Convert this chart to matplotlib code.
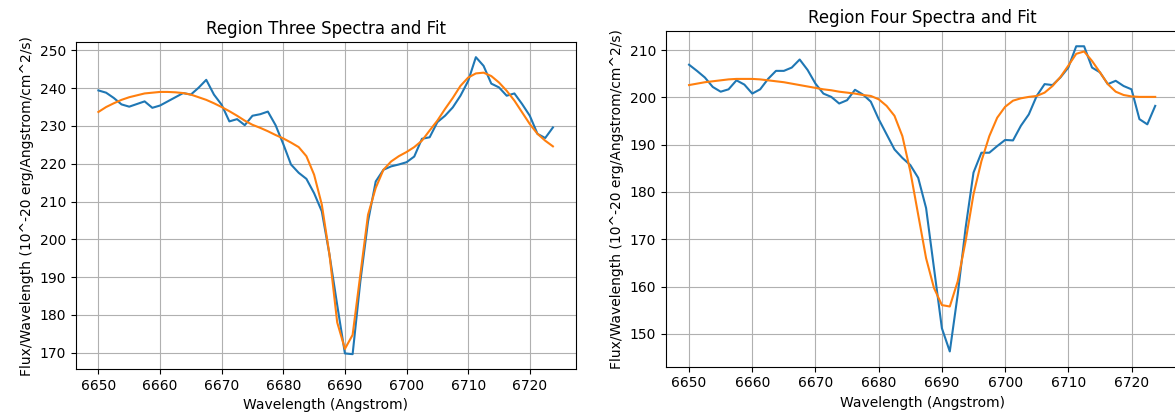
import matplotlib
matplotlib.use('Agg')
import matplotlib.pyplot as plt

# wavelength grid (Angstrom)
wave = [6650.0, 6651.25, 6652.5, 6653.75, 6655.0, 6656.25, 6657.5, 6658.75, 6660.0, 6661.25,
        6662.5, 6663.75, 6665.0, 6666.25, 6667.5, 6668.75, 6670.0, 6671.25, 6672.5, 6673.75,
        6675.0, 6676.25, 6677.5, 6678.75, 6680.0, 6681.25, 6682.5, 6683.75, 6685.0, 6686.25,
        6687.5, 6688.75, 6690.0, 6691.25, 6692.5, 6693.75, 6695.0, 6696.25, 6697.5, 6698.75,
        6700.0, 6701.25, 6702.5, 6703.75, 6705.0, 6706.25, 6707.5, 6708.75, 6710.0, 6711.25,
        6712.5, 6713.75, 6715.0, 6716.25, 6717.5, 6718.75, 6720.0, 6721.25, 6722.5, 6723.75]

# region three
flux3 = [239.4, 238.8, 237.4, 235.7, 235.1, 235.8, 236.5, 234.8, 235.4, 236.5,
         237.6, 238.7, 238.3, 240.1, 242.2, 238.3, 235.6, 231.2, 231.8, 230.2,
         232.7, 233.1, 233.8, 230.2, 225.2, 219.8, 217.6, 216.0, 212.2, 207.4,
         195.9, 182.6, 169.8, 169.6, 188.8, 204.7, 215.3, 218.4, 219.3, 219.8,
         220.4, 221.9, 226.6, 227.0, 231.0, 232.7, 234.9, 238.0, 241.9, 248.2,
         245.9, 241.2, 240.2, 238.0, 238.6, 235.8, 232.7, 227.9, 226.8, 229.6]
fit3 = [233.7, 235.0, 236.0, 236.9, 237.6, 238.1, 238.6, 238.8, 239.0, 239.0,
        238.9, 238.7, 238.3, 237.6, 236.9, 236.0, 235.0, 233.9, 232.7, 231.4,
        230.3, 229.5, 228.6, 227.6, 226.7, 225.6, 224.4, 222.0, 217.1, 209.2,
        195.9, 178.0, 171.0, 174.7, 190.6, 206.5, 213.6, 218.4, 220.6, 222.0,
        223.1, 224.4, 226.1, 228.8, 231.4, 234.5, 237.4, 240.6, 242.8, 243.9,
        244.1, 243.2, 241.5, 239.3, 236.7, 233.6, 230.5, 227.9, 226.1, 224.6]

# region four
flux4 = [206.9, 205.6, 204.2, 202.2, 201.2, 201.7, 203.6, 202.7, 200.8, 201.7,
         203.9, 205.6, 205.6, 206.3, 208.0, 205.8, 202.9, 200.8, 200.1, 198.7,
         199.4, 201.6, 200.6, 199.1, 195.4, 192.2, 189.0, 187.2, 185.7, 183.0,
         176.6, 163.9, 151.2, 146.3, 158.3, 172.4, 184.1, 188.3, 188.3, 189.7,
         191.0, 190.9, 194.0, 196.4, 200.3, 202.8, 202.6, 204.2, 206.3, 210.8,
         210.8, 206.3, 205.3, 202.8, 203.5, 202.4, 201.7, 195.4, 194.3, 198.2]
fit4 = [202.6, 202.9, 203.2, 203.4, 203.6, 203.8, 203.9, 203.9, 203.9, 203.8,
        203.6, 203.4, 203.2, 202.9, 202.6, 202.3, 202.0, 201.7, 201.5, 201.2,
        201.0, 200.8, 200.5, 200.3, 199.6, 198.2, 196.1, 191.8, 184.4, 175.2,
        166.0, 159.7, 156.1, 155.8, 161.1, 169.6, 179.5, 186.5, 191.8, 195.7,
        198.0, 199.3, 199.8, 200.1, 200.3, 201.0, 202.4, 204.3, 206.7, 209.2,
        209.7, 207.7, 205.3, 202.8, 201.2, 200.5, 200.2, 200.1, 200.1, 200.1]

ylab = 'Flux/Wavelength (10^-20 erg/Angstrom/cm^2/s)'

fig = plt.figure(figsize=(11.75, 4.19), dpi=100)

ax1 = fig.add_axes([0.0644, 0.1193, 0.4255, 0.7797])
ax1.plot(wave, flux3)
ax1.plot(wave, fit3)
ax1.set_title('Region Three Spectra and Fit')
ax1.set_xlabel('Wavelength (Angstrom)')
ax1.set_ylabel(ylab)
ax1.grid()

ax2 = fig.add_axes([0.5666, 0.1248, 0.4364, 0.8012])
ax2.plot(wave, flux4)
ax2.plot(wave, fit4)
ax2.set_title('Region Four Spectra and Fit')
ax2.set_xlabel('Wavelength (Angstrom)')
ax2.set_ylabel(ylab)
ax2.grid()

fig.savefig('out.png', dpi=100)
